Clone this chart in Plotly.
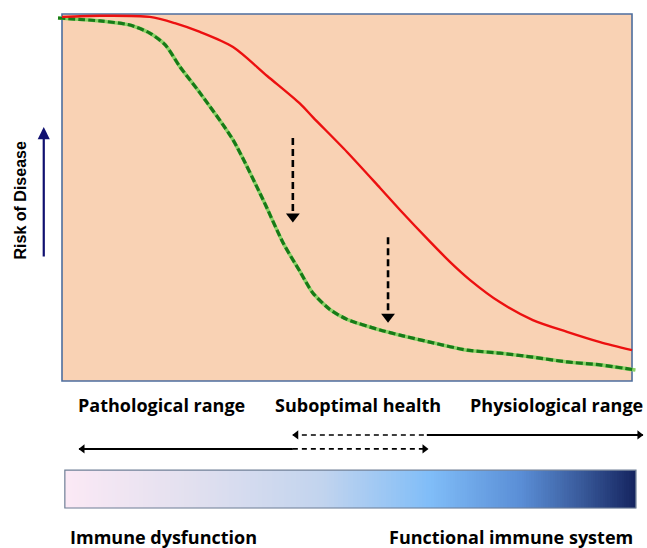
import numpy as np
import plotly.graph_objects as go

# ---- data (x: 0-100 along immune function axis, y: 0-100 risk of disease) ----
red_x = [0, 6.7, 15.4, 19.8, 24.2, 30.0, 36.0, 41.8, 44.0, 50.0, 55.8, 59.3, 64.6, 68.1, 71.6, 76.8, 82.6, 88.6, 94.4, 100.0]
red_y = [99.2, 99.5, 99.2, 97.5, 95.1, 91.0, 83.1, 75.5, 71.9, 62.4, 52.6, 46.6, 37.9, 32.4, 27.5, 21.5, 16.6, 13.4, 10.6, 8.4]

green_x = [-0.7, 6.7, 11.9, 15.4, 18.1, 20.7, 24.2, 30.0, 35.3, 38.8, 41.8, 44.0, 47.0, 50.0, 55.8, 59.3, 65.1, 71.1, 76.8, 82.6, 88.6, 94.4, 100.6]
green_y = [98.9, 98.1, 97.0, 94.8, 91.6, 85.6, 78.5, 65.7, 49.3, 37.6, 29.7, 24.0, 19.5, 16.8, 13.9, 12.5, 10.4, 8.4, 7.6, 6.5, 5.2, 4.4, 3.0]

# vertical dashed arrows (shift from red to green curve)
drop_x = [40.5, 57.2]
drop_start = [66.2, 39.2]
drop_tip = [43.1, 15.8]

# range labels
range_labels = ["Pathological range", "Suboptimal health", "Physiological range"]
range_label_x = [17.4, 51.9, 86.8]

# range arrows
top_arrow = {"dashed": [40.5, 64.0], "solid": [64.0, 101.9], "y": -14.7}
bottom_arrow = {"solid": [3.0, 40.5], "dashed": [40.5, 64.2], "y": -18.5}

bottom_labels = ["Immune dysfunction", "Functional immune system"]
bottom_label_x = [1.0, 100.6]

grad_stops = [0.0, 0.22, 0.45, 0.64, 0.8, 0.9, 1.0]
grad_colors = ["#fbe9f5", "#e2e0ef", "#c2d4ee", "#80bdf8", "#5a8ed6", "#3b5d9e", "#152560"]

fig = go.Figure()

# gradient bar
n = 240
bx0, bx1, by0, by1 = 0.5, 100.7, -34.6, -24.3
edges = np.linspace(bx0, bx1, n + 1)
fig.add_trace(go.Heatmap(
    z=[np.linspace(0, 1, n)], x=edges, y=[by0, by1],
    colorscale=[[s, c] for s, c in zip(grad_stops, grad_colors)],
    showscale=False, hoverinfo="skip", zmin=0, zmax=1))
fig.add_shape(type="rect", x0=bx0, x1=bx1, y0=by0, y1=by1,
              line=dict(color="#6f7f96", width=1.2), layer="above")

# plot box
fig.add_shape(type="rect", x0=0, x1=100, y0=0, y1=100,
              fillcolor="#f9d2b4", line=dict(color="#4d6e9e", width=1.6), layer="below")

# green curve (light halo + dark dashes)
fig.add_trace(go.Scatter(x=green_x, y=green_y, mode="lines",
                         line=dict(color="#8ad267", width=3.6, shape="spline", smoothing=0.7),
                         hoverinfo="skip"))
fig.add_trace(go.Scatter(x=green_x, y=green_y, mode="lines",
                         line=dict(color="#177a17", width=3.2, dash="7px,3px", shape="spline", smoothing=0.7),
                         hoverinfo="skip"))
# red curve
fig.add_trace(go.Scatter(x=red_x, y=red_y, mode="lines",
                         line=dict(color="#ec1010", width=2.4, shape="spline", smoothing=0.8),
                         hoverinfo="skip"))

# vertical dashed arrows
for x, s, t in zip(drop_x, drop_start, drop_tip):
    fig.add_trace(go.Scatter(x=[x, x], y=[s, t + 3.0], mode="lines",
                             line=dict(color="black", width=2.6, dash="7px,4px"), hoverinfo="skip"))
    fig.add_trace(go.Scatter(x=[x], y=[t + 1.7], mode="markers",
                             marker=dict(symbol="triangle-down", size=12, color="black"), hoverinfo="skip"))

# range arrows
def seg(xs, y, dash, w):
    fig.add_trace(go.Scatter(x=xs, y=[y, y], mode="lines",
                             line=dict(color="black", width=w, dash=dash), hoverinfo="skip"))

def head(x, y, sym):
    fig.add_trace(go.Scatter(x=[x], y=[y], mode="markers",
                             marker=dict(symbol=sym, size=8, color="black"), hoverinfo="skip"))

seg(top_arrow["dashed"], top_arrow["y"], "5px,4px", 1.6)
seg(top_arrow["solid"], top_arrow["y"], "solid", 2.0)
head(top_arrow["dashed"][0] + 0.6, top_arrow["y"], "triangle-left")
head(top_arrow["solid"][1] - 0.6, top_arrow["y"], "triangle-right")
seg(bottom_arrow["solid"], bottom_arrow["y"], "solid", 2.0)
seg(bottom_arrow["dashed"], bottom_arrow["y"], "5px,4px", 1.6)
head(bottom_arrow["solid"][0] + 0.6, bottom_arrow["y"], "triangle-left")
head(bottom_arrow["dashed"][1] - 0.6, bottom_arrow["y"], "triangle-right")

label_font = dict(family="Open Sans, Lato, sans-serif", size=18, color="black")
for t, x in zip(range_labels, range_label_x):
    fig.add_annotation(x=x, y=-6.5, text="<b>" + t + "</b>", showarrow=False, font=label_font,
                       xanchor="center", yanchor="middle")
bottom_font = dict(family="Open Sans, Lato, sans-serif", size=18, color="black")
fig.add_annotation(x=bottom_label_x[0], y=-42.4, text="<b>" + bottom_labels[0] + "</b>", showarrow=False,
                   font=bottom_font, xanchor="left", yanchor="middle")
fig.add_annotation(x=bottom_label_x[1], y=-42.4, text="<b>" + bottom_labels[1] + "</b>", showarrow=False,
                   font=bottom_font, xanchor="right", yanchor="middle")

# y-axis title and arrow
fig.add_annotation(x=-7.3, y=49.3, text="<b>Risk of Disease</b>", textangle=-90, showarrow=False,
                   font=dict(family="Liberation Sans, Arial, sans-serif", size=16, color="black"))
fig.add_annotation(x=-3.2, y=69.2, ax=-3.2, ay=33.5, axref="x", ayref="y", xref="x", yref="y",
                   text="", showarrow=True, arrowhead=2, arrowsize=1.1, arrowwidth=2.2,
                   arrowcolor="#101070")

fig.update_layout(
    width=647, height=548, margin=dict(l=0, r=0, t=0, b=0),
    paper_bgcolor="white", plot_bgcolor="white", showlegend=False,
    xaxis=dict(range=[-10.877, 102.63], visible=False, fixedrange=True),
    yaxis=dict(range=[-45.5, 103.81], visible=False, fixedrange=True),
)
fig.write_html("out.html", config={"displayModeBar": False},
               post_script="document.body.style.margin='0';document.body.style.overflow='hidden';")
